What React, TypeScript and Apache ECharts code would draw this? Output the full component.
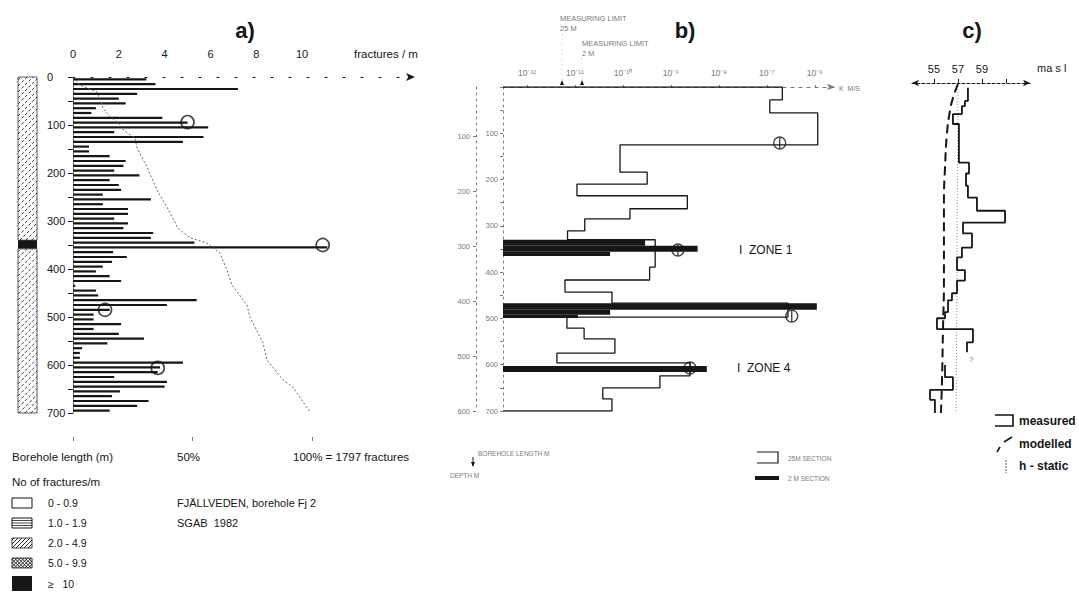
import React, { useEffect, useRef } from "react";
import * as echarts from "echarts";

// ---------- panel a) fracture frequency ----------
const fracTickLabels = [0, 2, 4, 6, 8, 10];
const depthTickLabels = [0, 100, 200, 300, 400, 500, 600, 700];
const depthTickMarks = [0, 50, 100, 150, 200, 250, 300, 350, 400, 450, 500, 550, 600, 650, 700];
const sectionLength = 10; // m per bar
const fracPerM = [
  3.2, 3.6, 7.2, 2.8, 2.0, 2.3, 1.0, 0.8, 3.9, 5.0,
  5.9, 1.8, 5.7, 4.8, 0.7, 0.7, 1.6, 2.3, 2.2, 1.8,
  2.9, 1.6, 2.0, 2.1, 1.3, 3.4, 1.3, 2.4, 2.4, 1.8,
  2.4, 2.2, 3.5, 3.4, 5.3, 11.1, 1.75, 2.35, 1.7, 1.3,
  1.0, 1.6, 2.1, 0.1, 1.0, 1.1, 5.4, 4.1, 1.6, 0.9,
  0.9, 2.1, 0.9, 2.0, 3.1, 1.5, 0.4, 0.3, 0.3, 4.8,
  3.8, 3.7, 1.8, 4.1, 4.0, 2.05, 1.7, 3.3, 2.8, 1.6,
];
const cumDepth = [0, 17, 31, 48, 65, 83, 104, 110, 127, 148, 188, 235, 271, 315, 335, 346, 367, 402, 433, 475, 500, 554, 590, 631, 646, 698];
const cumPct = [0, 2.9, 10, 11.3, 12.6, 15.5, 20.9, 20.9, 25.9, 26.8, 31, 35.1, 39.3, 43.9, 49, 56, 61.5, 64.4, 66.5, 72.8, 74, 79.5, 81.2, 87.9, 92, 99.2];
const circleA_depth = [94, 350, 485, 606];
const circleA_value = [5.0, 10.9, 1.4, 3.7];
const pctTicks = [0, 50, 100];
// borehole log column: [from, to, class index]
const fracClasses = ["0 - 0.9", "1.0 - 1.9", "2.0 - 4.9", "5.0 - 9.9", "≥   10"];
const columnFrom = [0, 340, 358];
const columnTo = [340, 358, 700];
const columnClass = [2, 4, 2];

// ---------- panel b) hydraulic conductivity ----------
const kTickExp = [-12, -11, -10, -9, -8, -7, -6];
const lengthLabels = [100, 200, 300, 400, 500, 600, 700];
const lengthTicks = [0, 50, 100, 150, 200, 250, 300, 350, 400, 450, 500, 550, 600, 650, 700];
const depthLabelsB = [100, 200, 300, 400, 500, 600];
const sec25From = [0, 28, 56, 125, 184, 210, 235, 263, 285, 311, 330, 389, 417, 443, 467, 497, 521, 544, 575, 596, 624, 650, 674];
const sec25To = [28, 56, 125, 184, 210, 235, 263, 285, 311, 330, 389, 417, 443, 467, 497, 521, 544, 575, 596, 624, 650, 674, 700];
const sec25K = [2.1e-7, 1.15e-7, 1.15e-6, 8.7e-11, 3.2e-10, 1.1e-11, 2.2e-9, 1.4e-10, 1.6e-11, 7e-12, 4.7e-10, 3.6e-10, 6.2e-12, 5.9e-11, 2.75e-7, 6.8e-12, 1.55e-11, 6.8e-11, 4.2e-12, 2.5e-9, 5.9e-10, 3.8e-11, 5.9e-11];
const sec2From = [330, 343, 356, 467, 481, 492, 603];
const sec2To = [343, 356, 365, 481, 492, 499, 616];
const sec2K = [2.9e-10, 3.6e-9, 5.4e-11, 1.1e-6, 5.4e-11, 1.15e-11, 5.6e-9];
const circleB_length = [121, 352, 495, 607];
const circleB_K = [1.85e-7, 1.4e-9, 3.3e-7, 2.5e-9];

// ---------- panel c) groundwater head ----------
const headLabels = [55, 57, 59];
const headTicks = [55, 57, 59, 61];
const measFrom = [10, 38, 49, 66, 87, 169, 192, 218, 243, 271, 296, 319, 349, 370, 397, 419, 446, 461, 486, 499, 522, 550];
const measTo = [38, 49, 66, 87, 169, 192, 218, 243, 271, 296, 319, 349, 370, 397, 419, 446, 461, 486, 499, 522, 550, 571];
const measHead = [57.83, 57.58, 57.33, 56.58, 57.08, 57.92, 57.67, 57.83, 58.58, 60.92, 57.42, 58.17, 57.33, 56.92, 57.58, 56.92, 56.5, 56.17, 55.92, 55.25, 58.25, 57.75];
const meas2From = [598, 624, 651, 672];
const meas2To = [624, 651, 672, 700];
const meas2Head = [55.92, 56.58, 54.67, 55.08];
const modelLength = [2, 32, 59, 108, 180, 250, 321, 419, 524, 630, 700];
const modelHead = [57.0, 56.58, 56.33, 56.08, 55.92, 55.83, 55.83, 55.83, 55.75, 55.67, 55.58];
const staticLength = [0, 700];
const staticHead = [57.0, 56.85];

const FONT = '"Liberation Sans", Arial, sans-serif';
const INK = "#161616";
const GREY = "#7a7a7a";
const K_MIN = -12.5;
const K_MAX = -5.58;

const SUP: Record<string, string> = { "-": "⁻", "0": "⁰", "1": "¹", "2": "²", "3": "³", "4": "⁴", "5": "⁵", "6": "⁶", "7": "⁷", "8": "⁸", "9": "⁹" };
const toSup = (s: string) => s.split("").map((c) => SUP[c] ?? c).join("");

function diagHatch(x: number, y: number, w: number, h: number, step: number, style: any, back = false) {
  const out: any[] = [];
  for (let c = step / 2; c < w + h; c += step) {
    const ua = Math.max(0, c - h);
    const ub = Math.min(w, c);
    if (ub <= ua) continue;
    if (!back) {
      out.push({ type: "line", silent: true, shape: { x1: x + ua, y1: y + (c - ua), x2: x + ub, y2: y + (c - ub) }, style });
    } else {
      out.push({ type: "line", silent: true, shape: { x1: x + ua, y1: y + h - (c - ua), x2: x + ub, y2: y + h - (c - ub) }, style });
    }
  }
  return out;
}

const txt = (text: string, x: number, y: number, size: number, o: any = {}) => ({
  type: "text",
  x,
  y,
  silent: true,
  style: {
    text,
    fill: o.fill ?? INK,
    font: `${o.weight ?? "normal"} ${size}px ${FONT}`,
    align: o.align ?? "left",
    verticalAlign: "middle",
  },
});

function buildOption(): any {
  const fracSections = fracPerM.map((v, i) => [i * sectionLength, (i + 1) * sectionLength, v]);
  const cumData = cumDepth.map((d, i) => [cumPct[i], d]);
  const circA = circleA_depth.map((d, i) => [circleA_value[i], d]);
  const columnData = columnFrom.map((f, i) => [f, columnTo[i], columnClass[i]]);

  const stepB: number[][] = [[K_MIN, 0]];
  sec25From.forEach((f, i) => {
    const lk = Math.log10(sec25K[i]);
    stepB.push([lk, f], [lk, sec25To[i]]);
  });
  stepB.push([K_MIN, 700]);
  const blackB = sec2From.map((f, i) => [f, sec2To[i], Math.log10(sec2K[i])]);
  const circB = circleB_length.map((l, i) => [Math.log10(circleB_K[i]), l]);

  const stepOf = (from: number[], to: number[], v: number[]) => {
    const pts: number[][] = [];
    from.forEach((f, i) => pts.push([v[i], f], [v[i], to[i]]));
    return pts;
  };
  const meas1 = stepOf(measFrom, measTo, measHead);
  const meas2 = stepOf(meas2From, meas2To, meas2Head);
  const model = modelLength.map((l, i) => [modelHead[i], l]);
  const stat = staticLength.map((l, i) => [staticHead[i], l]);

  const hatchStyle = { stroke: "#222", lineWidth: 0.9, lineDash: [3, 2] };

  const legendA: any[] = [];
  const rowsY = [503, 523, 543, 563];
  legendA.push({ type: "rect", shape: { x: 12, y: 498, width: 20, height: 10 }, style: { fill: "#fff", stroke: INK, lineWidth: 1 } });
  legendA.push({ type: "rect", shape: { x: 12, y: 518, width: 20, height: 10 }, style: { fill: "#fff", stroke: INK, lineWidth: 1 } });
  [520.5, 523, 525.5].forEach((yy) => legendA.push({ type: "line", shape: { x1: 12, y1: yy, x2: 32, y2: yy }, style: { stroke: INK, lineWidth: 0.8 } }));
  legendA.push({ type: "rect", shape: { x: 12, y: 538, width: 20, height: 10 }, style: { fill: "#fff", stroke: INK, lineWidth: 0.8 } });
  legendA.push(...diagHatch(12, 538, 20, 10, 4, { stroke: INK, lineWidth: 0.9 }));
  legendA.push({ type: "rect", shape: { x: 12, y: 558, width: 20, height: 10 }, style: { fill: "#fff", stroke: INK, lineWidth: 0.8 } });
  legendA.push(...diagHatch(12, 558, 20, 10, 3.5, { stroke: INK, lineWidth: 0.9 }));
  legendA.push(...diagHatch(12, 558, 20, 10, 3.5, { stroke: INK, lineWidth: 0.9 }, true));
  legendA.push({ type: "rect", shape: { x: 12, y: 576, width: 20, height: 15 }, style: { fill: INK } });
  fracClasses.forEach((c, i) => legendA.push(txt(c, 48, i < 4 ? rowsY[i] : 584, 10.5)));

  const graphic: any[] = [
    txt("a)", 245, 30, 22, { weight: "bold", align: "center" }),
    txt("b)", 685, 30, 22, { weight: "bold", align: "center" }),
    txt("c)", 972, 30, 22, { weight: "bold", align: "center" }),
    txt("fractures / m", 354, 54, 11.5),
    txt("Borehole length (m)", 12, 457, 11.5),
    txt("50%", 177, 457, 11.5),
    txt("100% = 1797 fractures", 293, 457, 11.5),
    txt("No of fractures/m", 12, 482, 11.5),
    txt("FJÄLLVEDEN, borehole Fj 2", 177, 503, 11),
    txt("SGAB  1982", 177, 523, 11),
    ...legendA,
    // panel b) annotations
    txt("MEASURING LIMIT", 560, 18, 7.5, { fill: GREY }),
    txt("25 M", 560, 28, 7.5, { fill: GREY }),
    txt("MEASURING LIMIT", 582, 43, 7.5, { fill: GREY }),
    txt("2 M", 582, 53, 7.5, { fill: GREY }),
    { type: "line", shape: { x1: 562, y1: 34, x2: 562, y2: 84 }, style: { stroke: "#aaa", lineWidth: 0.8, lineDash: [1, 4] } },
    { type: "polygon", shape: { points: [[560, 85], [564, 85], [562, 80]] }, style: { fill: INK } },
    { type: "line", shape: { x1: 582, y1: 58, x2: 582, y2: 84 }, style: { stroke: "#aaa", lineWidth: 0.8, lineDash: [1, 4] } },
    { type: "polygon", shape: { points: [[580, 85], [584, 85], [582, 80]] }, style: { fill: INK } },
    txt("K  M/S", 839, 88, 7, { fill: GREY }),
    txt("I  ZONE 1", 739, 250, 12),
    txt("I  ZONE 4", 737, 368, 12),
    txt("BOREHOLE LENGTH M", 478, 453, 6.5, { fill: GREY }),
    txt("DEPTH M", 450, 475, 6.5, { fill: GREY }),
    { type: "line", shape: { x1: 473, y1: 457, x2: 473, y2: 466 }, style: { stroke: INK, lineWidth: 1 } },
    { type: "polygon", shape: { points: [[471, 462], [475, 462], [473, 467]] }, style: { fill: INK } },
    { type: "polyline", shape: { points: [[757, 452], [778, 452], [778, 463], [757, 463]] }, style: { stroke: INK, lineWidth: 1.2, fill: "none" } },
    { type: "rect", shape: { x: 755, y: 476, width: 24, height: 4 }, style: { fill: INK } },
    txt("25M SECTION", 788, 458, 6.5, { fill: GREY }),
    txt("2 M SECTION", 788, 478, 6.5, { fill: GREY }),
    // panel c) annotations
    txt("ma s l", 1037, 68, 11),
    txt("?", 969, 359, 8, { fill: GREY }),
    { type: "polyline", shape: { points: [[995, 415], [1013, 415], [1013, 426], [995, 426]] }, style: { stroke: INK, lineWidth: 1.6, fill: "none" } },
    { type: "line", shape: { x1: 997, y1: 452, x2: 1000, y2: 447 }, style: { stroke: INK, lineWidth: 1.6 } },
    { type: "line", shape: { x1: 1004, y1: 442, x2: 1012, y2: 437 }, style: { stroke: INK, lineWidth: 1.6 } },
    { type: "line", shape: { x1: 1006, y1: 460, x2: 1006, y2: 473 }, style: { stroke: "#555", lineWidth: 1, lineDash: [2, 1] } },
    txt("measured", 1019, 421, 12, { weight: "bold" }),
    txt("modelled", 1019, 444, 12, { weight: "bold" }),
    txt("h - static", 1019, 466, 12, { weight: "bold" }),
  ];

  return {
    animation: false,
    backgroundColor: "#ffffff",
    textStyle: { fontFamily: FONT },
    grid: [
      { left: 73, top: 77, width: 342, height: 336 },
      { left: 503, top: 87, width: 332, height: 324 },
      { left: 912, top: 83, width: 118, height: 330 },
    ],
    xAxis: [
      {
        gridIndex: 0, type: "value", position: "top", min: 0, max: 14.93,
        splitLine: { show: false },
        axisLine: { show: true, symbol: ["none", "arrow"], symbolSize: [6, 9], lineStyle: { color: INK, width: 1.2, type: [2, 16] } },
        axisTick: { show: false },
        axisLabel: { customValues: fracTickLabels, margin: 18, color: INK, fontSize: 11, fontFamily: FONT },
      },
      {
        gridIndex: 0, type: "value", position: "bottom", offset: 24, min: 0, max: 143.1,
        splitLine: { show: false },
        axisLine: { show: false },
        axisTick: { show: true, customValues: pctTicks, length: 4, lineStyle: { color: GREY } },
        axisLabel: { show: false },
      },
      {
        gridIndex: 1, type: "value", position: "top", min: K_MIN, max: K_MAX,
        splitLine: { show: false },
        axisLine: { show: true, symbol: ["none", "arrow"], symbolSize: [5, 8], lineStyle: { color: GREY, width: 1, type: [3, 5] } },
        axisTick: { show: true, customValues: kTickExp, length: 2, lineStyle: { color: GREY } },
        axisLabel: {
          customValues: kTickExp, margin: 10, color: GREY, fontSize: 8.5, fontFamily: FONT,
          formatter: (v: number) => "10" + toSup(String(v)),
        },
      },
      {
        gridIndex: 2, type: "value", position: "top", min: 53.17, max: 63,
        splitLine: { show: false },
        axisLine: { show: true, symbol: ["arrow", "arrow"], symbolSize: [5, 7], lineStyle: { color: INK, width: 1, type: [3, 2] } },
        axisTick: { show: true, customValues: headTicks, length: 4, lineStyle: { color: INK } },
        axisLabel: { customValues: headLabels, margin: 9, color: INK, fontSize: 11, fontFamily: FONT },
      },
    ],
    yAxis: [
      {
        gridIndex: 0, type: "value", inverse: true, min: 0, max: 700,
        splitLine: { show: false },
        axisLine: { show: true, lineStyle: { color: "#555", width: 0.8 } },
        axisTick: { show: true, customValues: depthTickMarks, length: 5, lineStyle: { color: INK } },
        axisLabel: { customValues: depthTickLabels, align: "left", margin: 26, color: INK, fontSize: 11, fontFamily: FONT },
      },
      {
        gridIndex: 1, type: "value", inverse: true, min: 0, max: 700,
        splitLine: { show: false },
        axisLine: { show: true, lineStyle: { color: GREY, width: 1, type: [2, 4] } },
        axisTick: { show: true, customValues: lengthTicks, length: 3, lineStyle: { color: GREY } },
        axisLabel: { customValues: lengthLabels, margin: 5, color: GREY, fontSize: 7.5, fontFamily: FONT },
      },
      {
        gridIndex: 1, type: "value", inverse: true, position: "left", offset: 27, min: 10.9, max: 600,
        splitLine: { show: false },
        axisLine: { show: true, lineStyle: { color: GREY, width: 1, type: [2, 4] } },
        axisTick: { show: true, customValues: depthLabelsB, length: 3, lineStyle: { color: GREY } },
        axisLabel: { customValues: depthLabelsB, margin: 6, color: GREY, fontSize: 7.5, fontFamily: FONT },
      },
      { gridIndex: 2, type: "value", inverse: true, min: 0, max: 700, show: false },
    ],
    series: [
      {
        type: "custom", name: "fractures", xAxisIndex: 0, yAxisIndex: 0, clip: false,
        encode: { x: 2, y: [0, 1] },
        data: fracSections,
        renderItem: (_p: any, api: any) => {
          const mid = (api.value(0) + api.value(1)) / 2;
          const p0 = api.coord([0, mid]);
          const p1 = api.coord([api.value(2), mid]);
          return { type: "rect", shape: { x: p0[0], y: p0[1] - 1.1, width: p1[0] - p0[0], height: 2.2 }, style: { fill: INK } };
        },
      },
      {
        type: "custom", name: "column", xAxisIndex: 0, yAxisIndex: 0, clip: false,
        encode: { y: [0, 1] },
        data: columnData,
        renderItem: (_p: any, api: any) => {
          const y0 = api.coord([0, api.value(0)])[1];
          const y1 = api.coord([0, api.value(1)])[1];
          const cls = api.value(2);
          const x = 18, w = 19, h = y1 - y0;
          if (cls === 4) return { type: "rect", shape: { x, y: y0, width: w, height: h }, style: { fill: INK } };
          return {
            type: "group",
            children: [
              { type: "rect", shape: { x, y: y0, width: w, height: h }, style: { fill: "#fff", stroke: "#333", lineWidth: 0.8 } },
              ...diagHatch(x, y0, w, h, 6, hatchStyle),
            ],
          };
        },
      },
      {
        type: "line", name: "cumulative", xAxisIndex: 1, yAxisIndex: 0, data: cumData,
        showSymbol: false, lineStyle: { color: "#666", width: 1, type: [2, 2] },
      },
      {
        type: "scatter", xAxisIndex: 0, yAxisIndex: 0, data: circA, symbol: "circle", symbolSize: 13,
        itemStyle: { color: "rgba(255,255,255,0)", borderColor: INK, borderWidth: 1.6 },
      },
      {
        type: "custom", name: "2 m section", xAxisIndex: 2, yAxisIndex: 1, clip: false,
        encode: { x: 2, y: [0, 1] },
        data: blackB,
        renderItem: (_p: any, api: any) => {
          const a = api.coord([K_MIN, api.value(0)]);
          const b = api.coord([api.value(2), api.value(1)]);
          return { type: "rect", shape: { x: a[0], y: a[1], width: b[0] - a[0], height: b[1] - a[1] }, style: { fill: INK } };
        },
      },
      {
        type: "line", name: "25 m section", xAxisIndex: 2, yAxisIndex: 1, data: stepB,
        showSymbol: false, lineStyle: { color: INK, width: 1.3 },
      },
      {
        type: "scatter", xAxisIndex: 2, yAxisIndex: 1, data: circB, symbolSize: 12,
        symbol: "path://M10,0A10,10 0 1,1 10,20A10,10 0 1,1 10,0ZM10,0L10,20",
        itemStyle: { color: "rgba(255,255,255,0)", borderColor: INK, borderWidth: 1.4 },
      },
      {
        type: "line", name: "h-static", xAxisIndex: 3, yAxisIndex: 3, data: stat,
        showSymbol: false, lineStyle: { color: "#777", width: 0.8, type: [1, 2] },
      },
      {
        type: "line", name: "modelled", xAxisIndex: 3, yAxisIndex: 3, data: model, smooth: true,
        showSymbol: false, lineStyle: { color: INK, width: 2, type: [9, 5] },
      },
      {
        type: "line", name: "measured", xAxisIndex: 3, yAxisIndex: 3, data: meas1,
        showSymbol: false, lineStyle: { color: INK, width: 1.8 },
      },
      {
        type: "line", name: "measured ", xAxisIndex: 3, yAxisIndex: 3, data: meas2,
        showSymbol: false, lineStyle: { color: INK, width: 1.8 },
      },
    ],
    graphic,
  };
}

export default function App() {
  const ref = useRef<HTMLDivElement>(null);
  useEffect(() => {
    if (!ref.current) return;
    const chart = echarts.init(ref.current, null, { renderer: "svg" });
    chart.setOption(buildOption());
    return () => chart.dispose();
  }, []);
  return (
    <div
      ref={ref}
      style={{ position: "fixed", left: 0, top: 0, width: 1079, height: 606, background: "#fff" }}
    />
  );
}
